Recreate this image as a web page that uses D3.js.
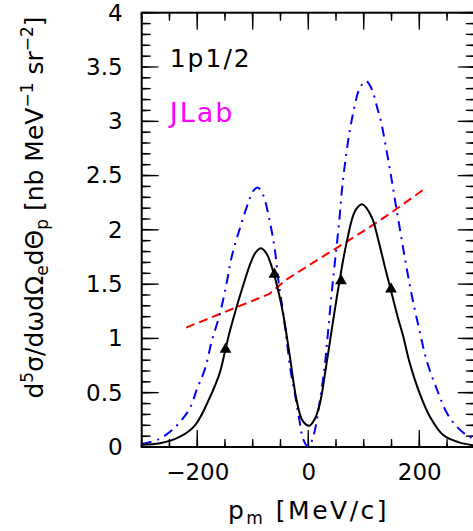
<!DOCTYPE html>
<html>
<head>
<meta charset="utf-8">
<script src="https://cdn.jsdelivr.net/npm/d3@7"></script>
<style>
  body { margin: 0; background: #fff; }
  text { font-family: "DejaVu Sans", sans-serif; }
</style>
</head>
<body>
<div class="canvas"></div>
<script>
// data: [p_m (MeV/c), cross section]
const solid = [
  [-300, 0.02], [-267, 0.034], [-231, 0.095], [-204, 0.20], [-177, 0.46], [-159, 0.69],
  [-150, 0.88], [-141, 1.07], [-129, 1.29], [-114, 1.54], [-105, 1.68], [-95, 1.79],
  [-85, 1.83], [-75, 1.78], [-69, 1.71], [-60, 1.56], [-51, 1.37], [-45, 1.22],
  [-33, 0.83], [-21, 0.43], [-10, 0.24], [2, 0.196], [12, 0.26], [21, 0.40],
  [33, 0.77], [45, 1.17], [56, 1.52], [69, 1.88], [84, 2.17], [97, 2.235],
  [114, 2.12], [126, 1.91], [138, 1.66], [148, 1.46], [161, 1.20], [171, 1.02],
  [183, 0.77], [201, 0.49], [219, 0.28], [243, 0.11], [273, 0.04], [300, 0.015]
];

const dashdot = [
  [-300, 0.028], [-270, 0.07], [-249, 0.14], [-231, 0.23], [-213, 0.36], [-200, 0.54],
  [-186, 0.72], [-174, 0.97], [-159, 1.23], [-147, 1.51], [-138, 1.75], [-124, 2.00],
  [-108, 2.25], [-99, 2.36], [-91, 2.39], [-82, 2.33], [-69, 2.07], [-60, 1.81],
  [-54, 1.54], [-50, 1.40], [-45, 1.23], [-39, 0.99], [-32, 0.71], [-24, 0.49],
  [-16, 0.25], [-9, 0.07], [0, 0.0], [9, 0.095], [21, 0.43], [30, 0.76],
  [36, 1.08], [42, 1.41], [49, 1.75], [56, 2.09], [60, 2.33], [64, 2.52],
  [69, 2.72], [74, 2.89], [79, 3.03], [84, 3.15], [90, 3.27], [97, 3.34],
  [104, 3.37], [110, 3.34], [117, 3.26], [124, 3.13], [131, 3.00], [141, 2.73],
  [150, 2.47], [157, 2.25], [162, 2.10], [171, 1.83], [180, 1.57], [190, 1.31],
  [201, 1.06], [213, 0.80], [231, 0.54], [250, 0.31], [267, 0.19], [285, 0.11], [300, 0.07]
];

const dashed = [
  [-220, 1.10], [-70, 1.41], [-40, 1.54], [0, 1.67],
  [50, 1.83], [100, 1.99], [150, 2.16], [210, 2.38]
];

const points = [[-149, 0.90], [-61, 1.59], [59, 1.53], [149, 1.455]];

const xLabels = [-200, 0, 200];
const yLabels = [0, 0.5, 1, 1.5, 2, 2.5, 3, 3.5, 4];

// dimensions
const W = 473, H = 531;
const margin = { top: 12.7, left: 141.7 };
const width = 333.1;
const height = 434.3;

const svg = d3.select(".canvas")
  .append("svg")
    .attr("width", W)
    .attr("height", H);

const g = svg.append("g")
  .attr("transform", `translate(${margin.left},${margin.top})`);

const x = d3.scaleLinear().domain([-300, 300]).range([0, width]);
const y = d3.scaleLinear().domain([0, 4]).range([height, 0]);

g.append("rect")
  .attr("width", width).attr("height", height)
  .attr("fill", "none").attr("stroke", "#000").attr("stroke-width", 2);

// tick labels through d3 axes
function addAxis(axis, tx, ty) {
  const a = g.append("g")
    .attr("transform", `translate(${tx},${ty})`)
    .call(axis.tickSizeOuter(0));
  a.select(".domain").remove();
  a.selectAll(".tick line").remove();
  a.selectAll("text").style("font-family", "DejaVu Sans").style("font-size", "23px").attr("fill", "#000");
}
addAxis(d3.axisBottom(x).tickValues(xLabels).tickSize(0).tickPadding(17)
  .tickFormat(d => d < 0 ? "\u2212" + Math.abs(d) : d), 0, height);
addAxis(d3.axisLeft(y).tickValues(yLabels).tickSize(0).tickPadding(19).tickFormat(d => d), 0, 0);

// tick marks as thin filled wedges (base 2px, tip 1.2px), all four sides, inwards
const isMaj = (v, step) => Math.abs(v / step - Math.round(v / step)) < 1e-6;
const xAll = x.ticks(12);                       // every 50
const yAll = d3.range(0, 41).map(d => d / 10);  // every 0.1

const tp = d3.path();
xAll.forEach(v => {
  const px = x(v);
  const lb = isMaj(v, 200) ? 17 : 8, lt = isMaj(v, 100) ? 17 : 8;
  tp.moveTo(px - 1, height); tp.lineTo(px + 1, height);
  tp.lineTo(px + 0.6, height - lb); tp.lineTo(px - 0.6, height - lb); tp.closePath();
  tp.moveTo(px - 1, 0); tp.lineTo(px + 1, 0);
  tp.lineTo(px + 0.6, lt); tp.lineTo(px - 0.6, lt); tp.closePath();
});
yAll.forEach(v => {
  const py = y(v);
  const l = isMaj(v, 0.5) ? 17 : 9;
  tp.moveTo(0, py - 1); tp.lineTo(0, py + 1);
  tp.lineTo(l, py + 0.6); tp.lineTo(l, py - 0.6); tp.closePath();
  tp.moveTo(width, py - 1); tp.lineTo(width, py + 1);
  tp.lineTo(width - l, py + 0.6); tp.lineTo(width - l, py - 0.6); tp.closePath();
});
g.append("path").attr("d", tp.toString()).attr("fill", "#000");

// curves
const line = d3.line().x(d => x(d[0])).y(d => y(d[1])).curve(d3.curveCatmullRom);
svg.append("defs").append("clipPath").attr("id", "clip")
  .append("rect").attr("width", width).attr("height", height);
const plot = g.append("g").attr("clip-path", "url(#clip)");

plot.append("path").datum(dashed)
  .attr("fill", "none").attr("stroke", "#ff0000").attr("stroke-width", 2)
  .attr("stroke-dasharray", "9,5")
  .attr("d", d3.line().x(d => x(d[0])).y(d => y(d[1])));

plot.append("path").datum(dashdot)
  .attr("fill", "none").attr("stroke", "#0000ff").attr("stroke-width", 2)
  .attr("stroke-dasharray", "10,6,2,6")
  .attr("d", line);

plot.append("path").datum(solid)
  .attr("fill", "none").attr("stroke", "#000").attr("stroke-width", 2)
  .attr("d", line);

plot.selectAll(".pt").data(points).join("path")
  .attr("transform", d => `translate(${x(d[0])},${y(d[1])})`)
  .attr("d", d3.symbol(d3.symbolTriangle, 60))
  .attr("fill", "#000");

// labels inside the frame
g.append("text").attr("x", 28).attr("y", 54)
  .style("font-size", "25px").attr("letter-spacing", "2px").text("1p1/2");
g.append("text").attr("x", 28).attr("y", 109)
  .style("font-size", "27px").attr("fill", "#ff00ff").attr("letter-spacing", "2px").text("JLab");

// axis titles
const xt = svg.append("text")
  .attr("x", 308.5).attr("y", 519)
  .attr("text-anchor", "middle").style("font-size", "25px").attr("letter-spacing", "2.5px");
xt.append("tspan").text("p");
xt.append("tspan").attr("dy", 5).style("font-size", "17px").text("m");
xt.append("tspan").attr("dy", -5).text(" [MeV/c]");

const yt = svg.append("text")
  .attr("transform", "translate(43,207.5) rotate(-90)")
  .attr("text-anchor", "middle").style("font-size", "25px");
yt.append("tspan").text("d");
yt.append("tspan").attr("dy", -10).style("font-size", "17px").text("5");
yt.append("tspan").attr("dy", 10).text("\u03c3/d\u03c9d\u03a9");
yt.append("tspan").attr("dy", 5).style("font-size", "17px").text("e");
yt.append("tspan").attr("dy", -5).text("d\u0398");
yt.append("tspan").attr("dy", 5).style("font-size", "17px").text("p");
yt.append("tspan").attr("dy", -5).text(" [nb MeV");
yt.append("tspan").attr("dy", -10).style("font-size", "17px").text("\u22121");
yt.append("tspan").attr("dy", 10).text(" sr");
yt.append("tspan").attr("dy", -10).style("font-size", "17px").text("\u22122");
yt.append("tspan").attr("dy", 10).text("]");
</script>
</body>
</html>
